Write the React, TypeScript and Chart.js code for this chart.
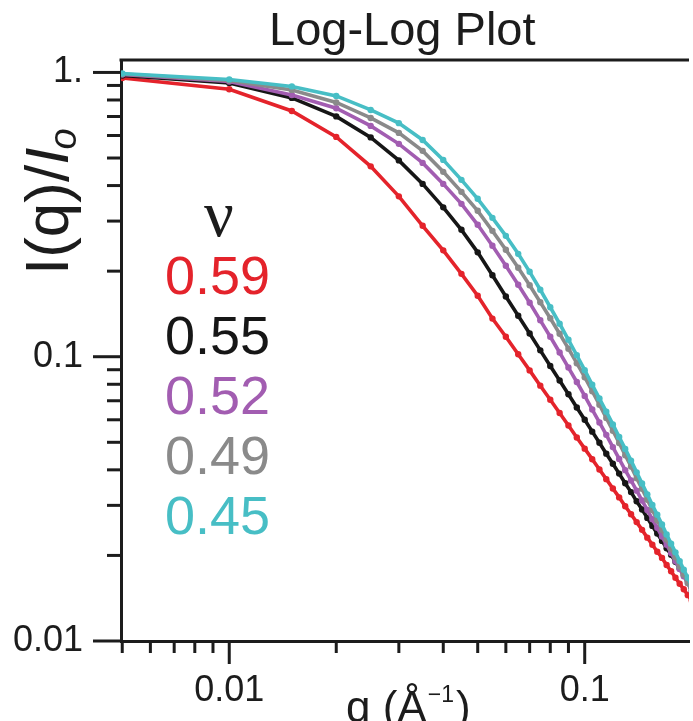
import React, { useEffect, useRef } from 'react';
import { Chart, registerables } from 'chart.js';

Chart.register(...registerables);

// ---------- data ----------
const qValues = [
  0.005, 0.01, 0.015, 0.02, 0.025, 0.03, 0.035, 0.04, 0.045, 0.05,
  0.055, 0.06, 0.065, 0.07, 0.075, 0.08, 0.085, 0.09, 0.095, 0.1,
  0.105, 0.11, 0.115, 0.12, 0.125, 0.13, 0.135, 0.14, 0.145, 0.15,
  0.155, 0.16, 0.165, 0.17, 0.175, 0.18, 0.185, 0.19, 0.195, 0.2,
];

const nu059 = [
  0.9565, 0.8728, 0.7321, 0.5932, 0.4673, 0.3665, 0.2887, 0.2367, 0.1957, 0.1638,
  0.1362, 0.1176, 0.102, 0.0895, 0.0791, 0.0706, 0.0634, 0.0573, 0.052, 0.0475,
  0.0436, 0.0401, 0.0371, 0.0344, 0.032, 0.0298, 0.0279, 0.0262, 0.0246, 0.0231,
  0.0218, 0.0206, 0.0196, 0.0185, 0.0176, 0.0167, 0.0159, 0.0152, 0.0145, 0.0139,
];
const nu055 = [
  0.976, 0.9186, 0.8136, 0.7005, 0.5908, 0.4905, 0.4055, 0.3353, 0.2795, 0.2329,
  0.1934, 0.1629, 0.1394, 0.1207, 0.1053, 0.0928, 0.0825, 0.0738, 0.0663, 0.06,
  0.0545, 0.0498, 0.0456, 0.042, 0.0388, 0.0359, 0.0334, 0.031, 0.029, 0.0271,
  0.0254, 0.0239, 0.0225, 0.0212, 0.0201, 0.019, 0.018, 0.0171, 0.0163, 0.0154,
];
const nu052 = [
  0.9839, 0.9297, 0.8334, 0.7484, 0.6486, 0.5608, 0.4806, 0.4055, 0.3449, 0.2911,
  0.2456, 0.2089, 0.1791, 0.1548, 0.1343, 0.1176, 0.1035, 0.0916, 0.0815, 0.0728,
  0.0652, 0.0587, 0.0531, 0.0481, 0.0437, 0.0399, 0.0367, 0.0338, 0.0312, 0.0289,
  0.0268, 0.025, 0.0233, 0.0218, 0.0204, 0.0191, 0.0179, 0.0169, 0.016, 0.015,
];
const nu049 = [
  0.9879, 0.9373, 0.868, 0.7844, 0.6918, 0.6129, 0.5298, 0.447, 0.3802, 0.326,
  0.2772, 0.2377, 0.2055, 0.1783, 0.1554, 0.1365, 0.1205, 0.1067, 0.0949, 0.0847,
  0.0756, 0.0678, 0.0609, 0.0549, 0.0497, 0.045, 0.0411, 0.0374, 0.0343, 0.0314,
  0.0289, 0.0266, 0.0246, 0.0228, 0.0211, 0.0197, 0.0183, 0.0171, 0.016, 0.015,
];
const nu045 = [
  0.992, 0.945, 0.8929, 0.8268, 0.7381, 0.6632, 0.5789, 0.4925, 0.419, 0.3593,
  0.308, 0.2662, 0.2301, 0.1989, 0.172, 0.1493, 0.1306, 0.1147, 0.1012, 0.0897,
  0.0797, 0.0713, 0.0641, 0.0578, 0.0522, 0.0474, 0.0431, 0.0392, 0.0358, 0.0328,
  0.0301, 0.0278, 0.0257, 0.0237, 0.022, 0.0205, 0.0191, 0.0178, 0.0167, 0.0156,
];

const seriesLabels = ['0.59', '0.55', '0.52', '0.49', '0.45'];
const seriesValues = [nu059, nu055, nu052, nu049, nu045];
const seriesColors = ['#e4232b', '#161616', '#a25db1', '#8a8a8a', '#47bec5'];

const xTickValues = [0.01, 0.1];
const xTickLabels = ['0.01', '0.1'];
const yTickValues = [0.01, 0.1, 1];
const yTickLabels = ['0.01', '0.1', '1.'];

const chartTitle = 'Log-Log Plot';
const legendTitle = 'ν';
const xTitleMain = 'q (Å';
const xTitleSup = '−1';
const xTitleEnd = ')';
const yTitleMain = 'I(q)/';
const yTitleItalic = 'I';
const yTitleSub = 'o';

// ---------- style ----------
const SANS = '"Liberation Sans", Arial, sans-serif';
const SERIF = '"Liberation Serif", "Times New Roman", serif';
const AXIS_COLOR = '#1c1c1c';
const AXIS_W = 3;

const sameVal = (a: number, b: number) => Math.abs(a - b) <= 1e-9 + 1e-6 * Math.abs(b);
const isDecade = (v: number) => {
  const l = Math.log10(v);
  return Math.abs(l - Math.round(l)) < 1e-6;
};
function logTicks(min: number, max: number) {
  const out: { value: number }[] = [];
  for (let e = Math.floor(Math.log10(min)); e <= Math.ceil(Math.log10(max)); e++) {
    for (let m = 1; m <= 9; m++) {
      const v = parseFloat((m * Math.pow(10, e)).toPrecision(6));
      if (v >= min * 0.9999 && v <= max * 1.0001) out.push({ value: v });
    }
  }
  return out;
}

const framePlugin = {
  id: 'frameAndTicks',
  afterDraw(chart: any) {
    const { ctx, chartArea, scales } = chart;
    ctx.save();
    ctx.strokeStyle = AXIS_COLOR;
    ctx.lineWidth = AXIS_W;
    ctx.lineCap = 'butt';
    ctx.beginPath();
    ctx.moveTo(chartArea.left - AXIS_W / 2, chartArea.top);
    ctx.lineTo(chartArea.right, chartArea.top);
    ctx.stroke();
    scales.x.ticks.forEach((t: any) => {
      const px = scales.x.getPixelForValue(t.value);
      const len = isDecade(t.value) ? 23 : 12;
      ctx.beginPath();
      ctx.moveTo(px, chartArea.bottom);
      ctx.lineTo(px, chartArea.bottom + len);
      ctx.stroke();
    });
    scales.y.ticks.forEach((t: any) => {
      const py = scales.y.getPixelForValue(t.value);
      const len = isDecade(t.value) ? 28 : 14;
      ctx.beginPath();
      ctx.moveTo(chartArea.left, py);
      ctx.lineTo(chartArea.left - len, py);
      ctx.stroke();
    });
    ctx.restore();
  },
};

const textPlugin = {
  id: 'texts',
  afterDraw(chart: any) {
    const { ctx } = chart;
    ctx.save();
    ctx.textBaseline = 'alphabetic';
    ctx.textAlign = 'left';

    ctx.fillStyle = AXIS_COLOR;
    ctx.font = `47px ${SANS}`;
    ctx.fillText(chartTitle, 269, 45);

    ctx.font = `44px ${SANS}`;
    let x = 346;
    ctx.fillText(xTitleMain, x, 722);
    x += ctx.measureText(xTitleMain).width + 1;
    ctx.font = `23px ${SANS}`;
    ctx.fillText(xTitleSup, x, 702);
    x += ctx.measureText(xTitleSup).width + 2;
    ctx.font = `44px ${SANS}`;
    ctx.fillText(xTitleEnd, x, 722);

    ctx.save();
    ctx.translate(68, 275);
    ctx.rotate(-Math.PI / 2);
    ctx.font = `62px ${SANS}`;
    let yx = 0;
    ctx.fillText(yTitleMain, yx, 0);
    yx += ctx.measureText(yTitleMain).width;
    ctx.font = `italic 62px ${SANS}`;
    ctx.fillText(yTitleItalic, yx, 0);
    yx += ctx.measureText(yTitleItalic).width;
    ctx.font = `italic 38px ${SANS}`;
    ctx.fillText(yTitleSub, yx - 2, 8);
    ctx.restore();

    ctx.font = `66px ${SERIF}`;
    ctx.fillStyle = AXIS_COLOR;
    ctx.textAlign = 'center';
    ctx.fillText(legendTitle, 219, 236);
    ctx.textAlign = 'left';
    ctx.font = `54px ${SANS}`;
    seriesLabels.forEach((lab, i) => {
      ctx.fillStyle = seriesColors[i];
      ctx.fillText(lab, 165, 294 + i * 60);
    });
    ctx.restore();
  },
};

export default function App() {
  const canvasRef = useRef<HTMLCanvasElement | null>(null);

  useEffect(() => {
    document.body.style.margin = '0';
    const canvas = canvasRef.current;
    if (!canvas) return;
    const chart = new Chart(canvas, {
      type: 'line',
      data: {
        datasets: seriesValues.map((vals, i) => ({
          label: seriesLabels[i],
          data: qValues.map((q, j) => ({ x: q, y: vals[j] })),
          borderColor: seriesColors[i],
          backgroundColor: seriesColors[i],
          pointBackgroundColor: seriesColors[i],
          pointBorderWidth: 0,
          pointRadius: 3.2,
          borderWidth: 3.6,
          tension: 0,
          fill: false,
          order: seriesValues.length - 1 - i,
        })),
      },
      options: {
        animation: false,
        responsive: true,
        maintainAspectRatio: false,
        devicePixelRatio: 1,
        layout: { padding: { top: 60, right: 0, left: 0, bottom: 0 } },
        plugins: {
          legend: { display: false },
          title: { display: false },
          tooltip: { enabled: false },
        },
        scales: {
          x: {
            type: 'logarithmic',
            min: 0.00496,
            max: 0.1965,
            grid: { display: false, drawTicks: false },
            border: { display: true, color: AXIS_COLOR, width: AXIS_W },
            afterBuildTicks: (scale: any) => {
              scale.ticks = logTicks(scale.min, scale.max);
            },
            afterFit: (scale: any) => {
              scale.height = 80;
            },
            ticks: {
              autoSkip: false,
              maxRotation: 0,
              minRotation: 0,
              padding: 28,
              color: AXIS_COLOR,
              font: { family: SANS, size: 36 },
              callback: (value: any) => {
                const v = Number(value);
                const k = xTickValues.findIndex((t) => sameVal(v, t));
                return k >= 0 ? xTickLabels[k] : '';
              },
            },
          },
          y: {
            type: 'logarithmic',
            min: 0.01,
            max: 1.106,
            grid: { display: false, drawTicks: false },
            border: { display: true, color: AXIS_COLOR, width: AXIS_W },
            afterBuildTicks: (scale: any) => {
              scale.ticks = logTicks(scale.min, scale.max);
            },
            afterFit: (scale: any) => {
              scale.width = 121;
            },
            ticks: {
              autoSkip: false,
              padding: 38,
              color: AXIS_COLOR,
              font: { family: SANS, size: 36 },
              callback: (value: any) => {
                const v = Number(value);
                const k = yTickValues.findIndex((t) => sameVal(v, t));
                return k >= 0 ? yTickLabels[k] : '';
              },
            },
          },
        },
      },
      plugins: [framePlugin, textPlugin],
    });
    return () => {
      chart.destroy();
    };
  }, []);

  return (
    <div style={{ position: 'absolute', left: 0, top: 0, width: 693, height: 721, background: '#fff' }}>
      <canvas ref={canvasRef} />
    </div>
  );
}
